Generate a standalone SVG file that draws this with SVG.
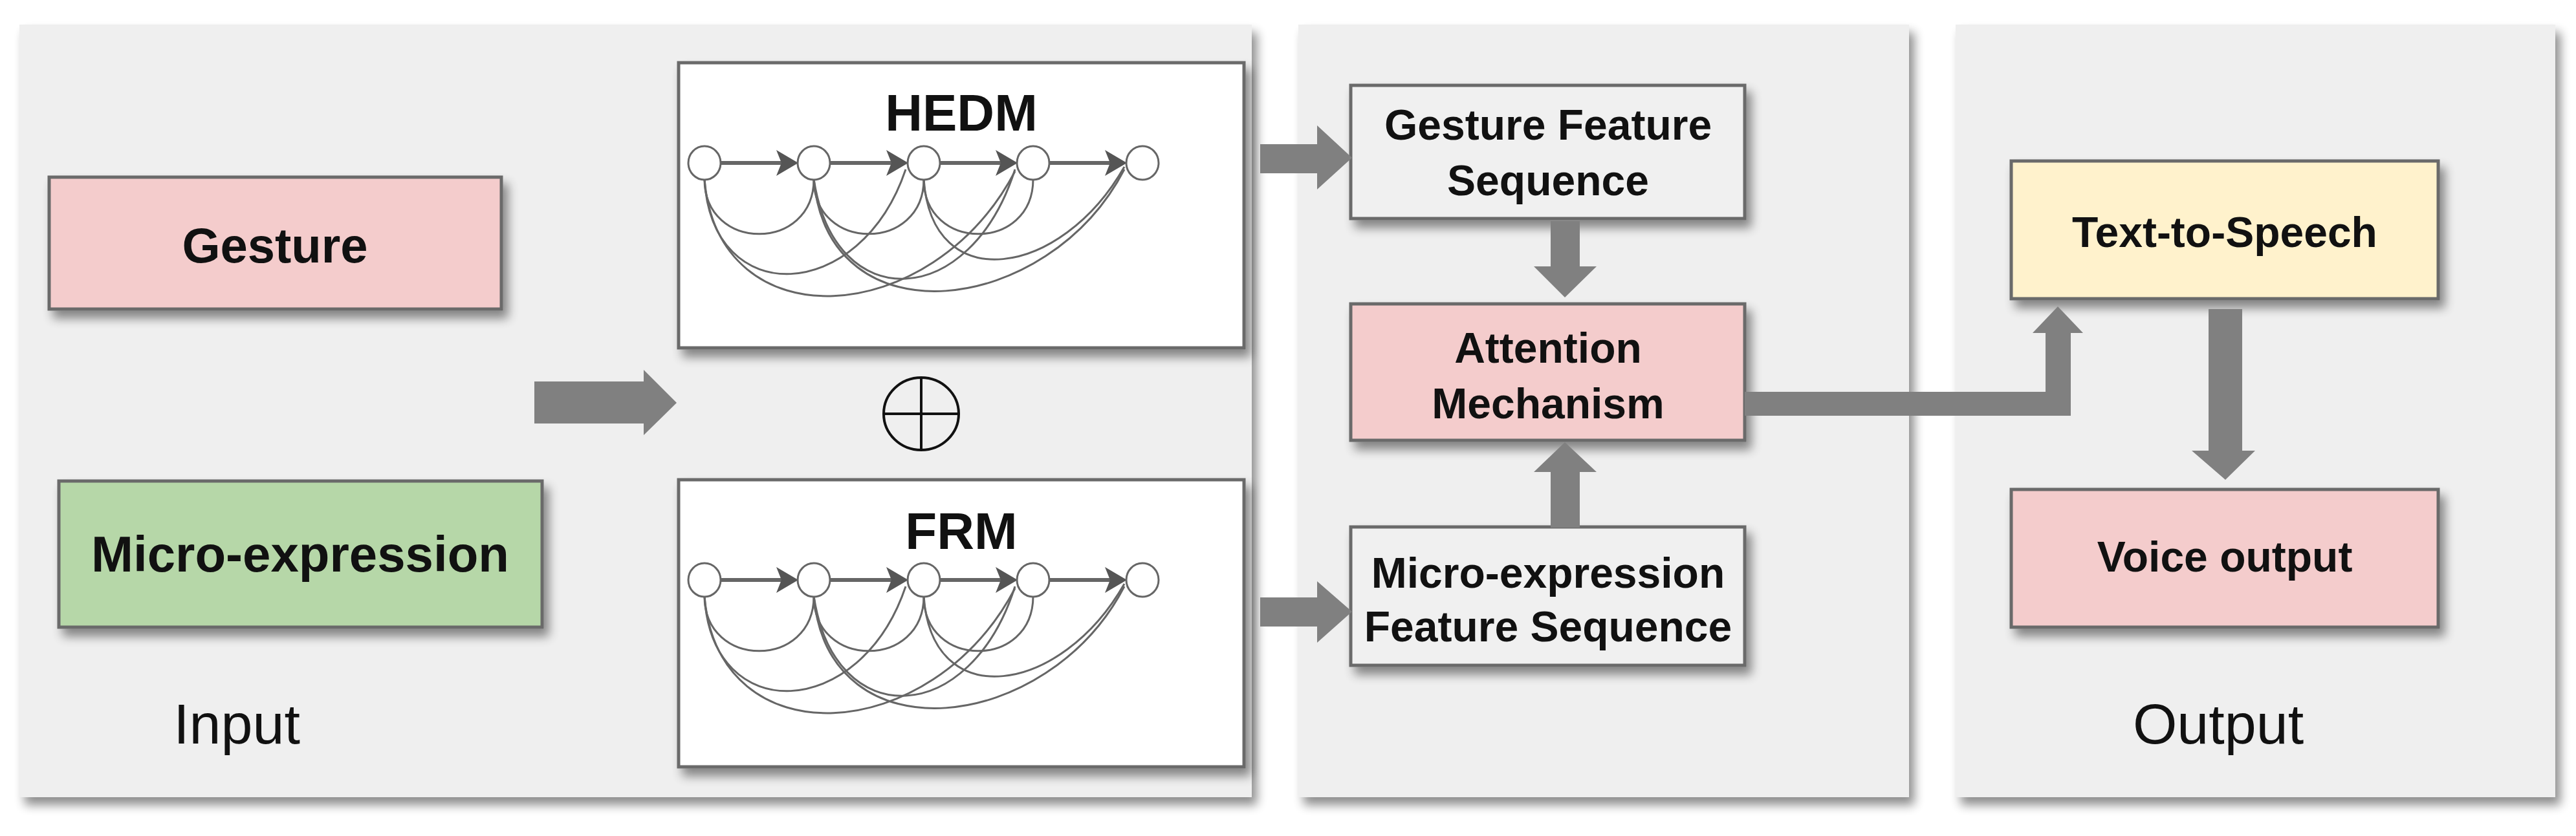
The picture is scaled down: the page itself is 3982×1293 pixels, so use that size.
<svg xmlns="http://www.w3.org/2000/svg" width="3982" height="1293" viewBox="0 0 3982 1293">
<defs>
<filter id="sh" x="-10%" y="-10%" width="130%" height="130%"><feGaussianBlur in="SourceAlpha" stdDeviation="8"/><feOffset dx="8" dy="12"/><feComponentTransfer><feFuncA type="linear" slope="0.45"/></feComponentTransfer><feMerge><feMergeNode/><feMergeNode in="SourceGraphic"/></feMerge></filter>
<g id="graph">
<g fill="none" stroke="#666" stroke-width="3">
<path d="M1114,252 H1210" stroke-width="6"/>
<path d="M1283,252 H1380" stroke-width="6"/>
<path d="M1453,252 H1549" stroke-width="6"/>
<path d="M1622,252 H1718" stroke-width="6"/>
<path d="M1089,277 C1089,390 1258,390 1258,277"/>
<path d="M1258,277 C1258,390 1428,390 1428,277"/>
<path d="M1428,277 C1428,390 1597,390 1597,277"/>
<path d="M1089,277 C1100,480 1330,470 1400,262"/>
<path d="M1258,277 C1290,490 1500,480 1569,262"/>
<path d="M1428,277 C1440,460 1640,430 1738,258"/>
<path d="M1089,277 C1110,530 1440,510 1569,265"/>
<path d="M1258,277 C1280,530 1620,490 1738,262"/>
</g>
<g fill="#555">
<path d="M1200,232 L1234,252 L1200,272 L1208,252 z"/>
<path d="M1370,232 L1404,252 L1370,272 L1378,252 z"/>
<path d="M1539,232 L1573,252 L1539,272 L1547,252 z"/>
<path d="M1708,232 L1742,252 L1708,272 L1716,252 z"/>
</g>
<g fill="#fff" stroke="#666" stroke-width="3">
<ellipse cx="1089" cy="252" rx="25" ry="26"/><ellipse cx="1258" cy="252" rx="25" ry="26"/><ellipse cx="1428" cy="252" rx="25" ry="26"/><ellipse cx="1597" cy="252" rx="25" ry="26"/><ellipse cx="1766" cy="252" rx="25" ry="26"/>
</g>
</g>
</defs>
<style>
.panel{fill:#efefef;filter:url(#sh)}
.box{stroke:#6a6a6a;stroke-width:5;filter:url(#sh)}
.t{font-family:"Liberation Sans",Arial,sans-serif;font-weight:bold;font-size:66px;text-anchor:middle;fill:#111}
.tl{font-family:"Liberation Sans",Arial,sans-serif;font-size:88px;text-anchor:middle;fill:#111}
.arr{fill:#808080}
</style>
<rect width="3982" height="1293" fill="#fff"/>
<g id="panels">
<rect class="panel" x="30" y="38" width="1905" height="1195"/>
<rect class="panel" x="2007" y="38" width="944" height="1195"/>
<rect class="panel" x="3023" y="38" width="927" height="1195"/>
<text class="tl" x="366" y="1150">Input</text>
<text class="tl" x="3429" y="1150">Output</text>
</g>
<g id="gesture"><rect class="box" x="76" y="274" width="699" height="204" fill="#f4cccc"/><text class="t" x="425" y="406" style="font-size:76px">Gesture</text></g>
<g id="micro"><rect class="box" x="91" y="744" width="747" height="226" fill="#b6d7a8"/><text class="t" x="464" y="884" style="font-size:78px">Micro-expression</text></g>
<g id="hedm"><rect class="box" x="1049" y="97" width="874" height="441" fill="#fff"/><text class="t" x="1486" y="202" style="font-size:80px">HEDM</text><use href="#graph"/></g>
<g id="frm"><rect class="box" x="1049" y="742" width="874" height="444" fill="#fff"/><text class="t" x="1486" y="849" style="font-size:80px">FRM</text><use href="#graph" transform="translate(0,645)"/></g>
<g id="oplus" fill="none" stroke="#111" stroke-width="4"><ellipse cx="1424" cy="640" rx="58" ry="56"/><path d="M1366,640 H1482 M1424,584 V696"/></g>
<g id="gfs"><rect class="box" x="2088" y="132" width="609" height="206" fill="#f0f0f0"/><text class="t" x="2393" y="216">Gesture Feature</text><text class="t" x="2393" y="302">Sequence</text></g>
<g id="attn"><rect class="box" x="2088" y="470" width="609" height="211" fill="#f4cccc"/><text class="t" x="2393" y="561">Attention</text><text class="t" x="2393" y="647">Mechanism</text></g>
<g id="mfs"><rect class="box" x="2088" y="815" width="609" height="214" fill="#f0f0f0"/><text class="t" x="2393" y="909">Micro-expression</text><text class="t" x="2393" y="992">Feature Sequence</text></g>
<g id="tts"><rect class="box" x="3109" y="249" width="660" height="213" fill="#fff2cc"/><text class="t" x="3439" y="382">Text-to-Speech</text></g>
<g id="voice"><rect class="box" x="3109" y="757" width="660" height="213" fill="#f4cccc"/><text class="t" x="3439" y="884">Voice output</text></g>
<g id="connectors" class="arr">
<path d="M826,590 H995 V572 L1046,623 L995,673 V655 H826 z"/>
<path d="M1948,223 H2036 V194 L2090,244 L2036,293 V268 H1948 z"/>
<path d="M1948,924 H2036 V899 L2090,946 L2036,994 V969 H1948 z"/>
<path d="M2397,342 H2442 V412 H2468 L2419,460 L2371,412 H2397 z"/>
<path d="M2397,816 H2442 V730 H2468 L2419,684 L2371,730 H2397 z"/>
<path d="M2697,606 H3162 V515 H3142 L3181,474 L3220,515 H3201 V643 H2697 z"/>
<path d="M3414,478 H3466 V697 H3486 L3440,742 L3388,697 H3414 z"/>
</g>
</svg>
